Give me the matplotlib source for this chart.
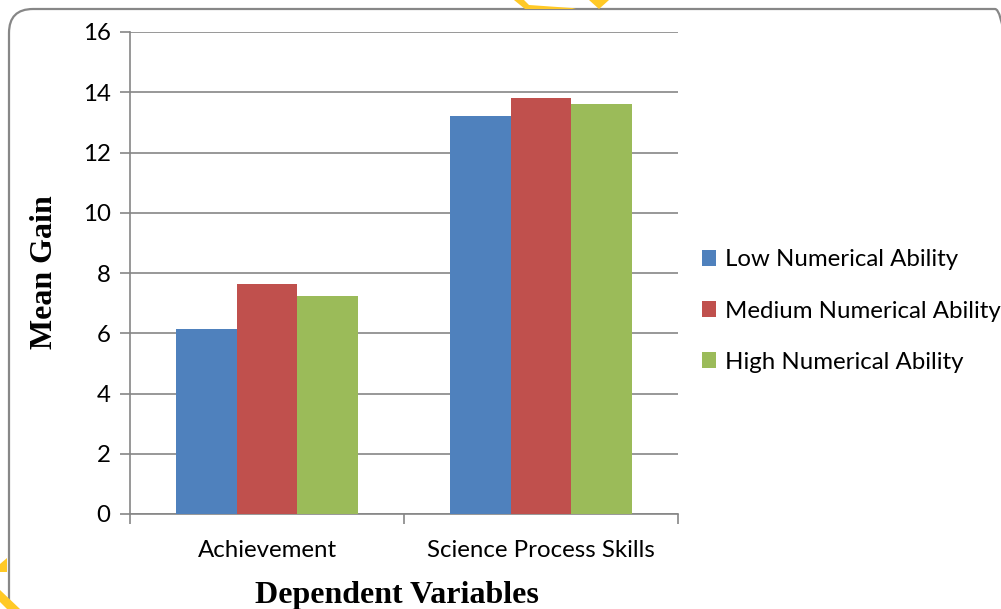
import matplotlib

matplotlib.use("Agg", force=True)
import matplotlib.pyplot as plt
import numpy as np
from matplotlib.patches import FancyBboxPatch, Polygon

categories = ["Achievement", "Science Process Skills"]
series_names = ["Low Numerical Ability", "Medium Numerical Ability", "High Numerical Ability"]
low_values = [6.13, 13.2]
medium_values = [7.65, 13.82]
high_values = [7.24, 13.62]
y_ticks = [0, 2, 4, 6, 8, 10, 12, 14, 16]

colors = ["#4F81BD", "#C0504D", "#9BBB59"]
grid_color = "#868686"
tick_font = "Lato"
tick_size = 17.3

W, H = 1001, 609
fig = plt.figure(figsize=(W / 100, H / 100), dpi=100)


def fig_xy(points):
    return [(px / W, 1 - py / H) for px, py in points]


# rounded frame around the whole chart
frame = FancyBboxPatch((9 / W, 1 - 628 / H), 1010 / W, 619 / H,
                       boxstyle="round,pad=0,rounding_size=0.024",
                       transform=fig.transFigure, facecolor="none",
                       edgecolor="#878787", linewidth=1.6, mutation_aspect=W / H)
fig.patches.append(frame)

# yellow watermark fragments
for pts in [
    [(514, 0), (524, 0), (529, 5), (572, 8), (576, 9), (525, 9)],
    [(589, 0), (609, 0), (599, 9)],
    [(0, 564), (7, 558), (7, 572), (0, 572)],
    [(0, 590), (0, 602), (7, 609), (20, 609)],
]:
    fig.patches.append(Polygon(fig_xy(pts), closed=True, transform=fig.transFigure,
                               facecolor="#FFC926", edgecolor="none"))

ax = fig.add_axes([130 / W, 1 - 514 / H, 548 / W, 482 / H])

x = np.arange(len(categories))
width = 0.222
for i, (vals, name) in enumerate(zip([low_values, medium_values, high_values], series_names)):
    ax.bar(x + (i - 1) * width, vals, width, color=colors[i], label=name, zorder=3,
           edgecolor="none")

ax.set_xlim(-0.5, 1.5)
ax.set_ylim(0, 16)
ax.set_yticks(y_ticks)
ax.yaxis.grid(True, color=grid_color, linewidth=1.2, zorder=0)
ax.set_axisbelow(True)

for side in ["top", "right"]:
    ax.spines[side].set_visible(False)
for side in ["left", "bottom"]:
    ax.spines[side].set_color(grid_color)
    ax.spines[side].set_linewidth(1.2)

ax.set_xticks([-0.5, 0.5, 1.5])
ax.set_xticklabels([])
ax.set_xticks(x, minor=True)
ax.set_xticklabels(categories, minor=True, fontsize=tick_size, family=tick_font)
ax.tick_params(axis="x", which="major", length=7, color=grid_color, width=1.2, direction="out")
ax.tick_params(axis="x", which="minor", length=0, pad=19)
ax.tick_params(axis="y", length=7, color=grid_color, width=1.2, pad=7)
for lbl in ax.get_yticklabels():
    lbl.set_family(tick_font)
    lbl.set_fontsize(tick_size)

fig.text(45 / W, 1 - 272 / H, "Mean Gain", family="Liberation Serif", fontweight="bold",
         fontsize=23, rotation=90, ha="center", va="center")
fig.text(397 / W, 1 - 595 / H, "Dependent Variables", family="Liberation Serif",
         fontweight="bold", fontsize=23, ha="center", va="center")

ax.legend(loc="center left", bbox_to_anchor=(702 / W, 1 - 311 / H),
          bbox_transform=fig.transFigure, frameon=False,
          prop={"family": tick_font, "size": tick_size}, handlelength=0.6, handleheight=0.6,
          handletextpad=0.35, labelspacing=1.25, borderaxespad=0, borderpad=0)

fig.savefig("out.png", dpi=100)
